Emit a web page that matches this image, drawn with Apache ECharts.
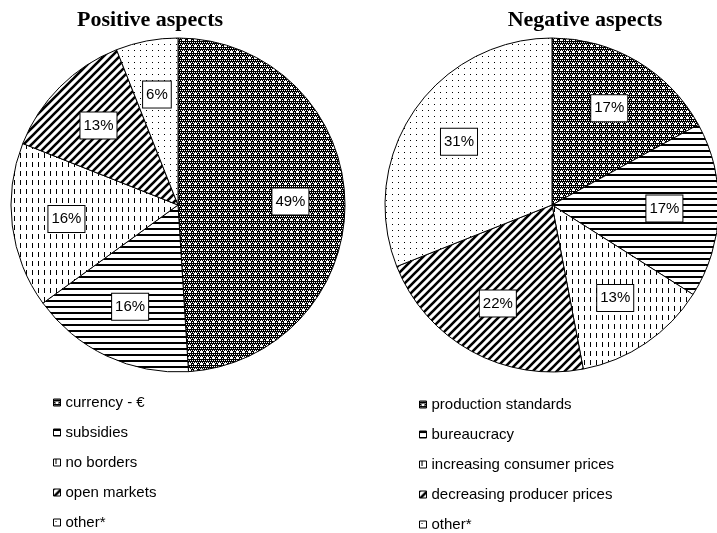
<!DOCTYPE html>
<html>
<head>
<meta charset="utf-8">
<script src="https://cdn.jsdelivr.net/npm/echarts@6/dist/echarts.min.js"></script>
<style>
html,body{margin:0;padding:0;background:#fff;}
#main{width:717px;height:533px;}
</style>
</head>
<body>
<div id="main"></div>
<script>
const posTitle = 'Positive aspects';
const negTitle = 'Negative aspects';
const posCategories = ['currency - €', 'subsidies', 'no borders', 'open markets', 'other*'];
const posValues = [49, 16, 16, 13, 6];
const negCategories = ['production standards', 'bureaucracy', 'increasing consumer prices', 'decreasing producer prices', 'other*'];
const negValues = [17, 17, 13, 22, 31];

function makeTile(w, h, draw) {
  const c = document.createElement('canvas');
  c.width = w; c.height = h;
  const ctx = c.getContext('2d');
  ctx.fillStyle = '#fff';
  ctx.fillRect(0, 0, w, h);
  ctx.fillStyle = '#000';
  draw(ctx, w, h);
  return { image: c, repeat: 'repeat' };
}
// dark checker with white plus dots
const patChecker = makeTile(6, 6, function (ctx, w, h) {
  ctx.fillRect(0, 0, w, h);
  ctx.fillStyle = '#fff';
  for (let y = 0; y < h; y += 2) for (let x = 0; x < w; x += 2) {
    ctx.fillRect(x + ((y / 2) % 2), y, 1, 1);
  }
  ctx.fillRect(3, 2, 1, 3);
  ctx.fillRect(2, 3, 3, 1);
});
// horizontal lines
const patHoriz = makeTile(6, 6, function (ctx, w, h) {
  ctx.fillRect(0, 0, w, 2);
});
// vertical dashes
const patVDash = makeTile(6, 9, function (ctx, w, h) {
  ctx.fillRect(2, 0, 1, 5);
});
// diagonal stripes "/"
const patDiag = makeTile(8, 8, function (ctx, w, h) {
  ctx.strokeStyle = '#000';
  ctx.lineWidth = 2.6;
  ctx.beginPath();
  for (let k = -1; k <= 1; k++) {
    ctx.moveTo(-2 + k * w, h + 2);
    ctx.lineTo(w + 2 + k * w, -2);
  }
  ctx.stroke();
});
// sparse dots
const patDots = makeTile(6, 6, function (ctx, w, h) {
  ctx.fillRect(2, 2, 1, 1);
});
const patterns = [patChecker, patHoriz, patVDash, patDiag, patDots];

const centers = [[178, 205], [552, 205]];
const radius = 167;

function buildData(cats, vals) {
  return cats.map(function (name, i) {
    return { name: name, value: vals[i], itemStyle: { color: patterns[i] } };
  });
}

const labelStyle = {
  show: true,
  position: 'inside',
  formatter: '{c}%',
  fontFamily: 'Liberation Sans, Arial, sans-serif',
  fontSize: 15,
  color: '#000',
  backgroundColor: '#fff',
  borderColor: '#000',
  borderWidth: 1,
  padding: [6, 3, 5, 3],
  lineHeight: 15
};

function pushOut(params) {
  const c = centers[params.seriesIndex];
  const r = params.labelRect;
  const lx = r.x + r.width / 2, ly = r.y + r.height / 2;
  const k = 1.3;
  return { x: c[0] + (lx - c[0]) * k, y: c[1] + (ly - c[1]) * k };
}

const legendText = { fontFamily: 'Liberation Sans, Arial, sans-serif', fontSize: 15, color: '#000', lineHeight: 15 };

const chart = echarts.init(document.getElementById('main'), null, { renderer: 'canvas' });
chart.setOption({
  animation: false,
  backgroundColor: '#fff',
  title: [
    { text: posTitle, left: 145, top: 4, textAlign: 'center',
      textStyle: { fontFamily: 'Liberation Serif, Times New Roman, serif', fontWeight: 'bold', fontSize: 22, color: '#000' } },
    { text: negTitle, left: 580, top: 4, textAlign: 'center',
      textStyle: { fontFamily: 'Liberation Serif, Times New Roman, serif', fontWeight: 'bold', fontSize: 22, color: '#000' } }
  ],
  legend: [
    { data: posCategories, orient: 'vertical', left: 53, top: 395, padding: 0, itemWidth: 7, itemHeight: 7, itemGap: 15,
      icon: 'rect', textStyle: legendText, selectedMode: false,
      itemStyle: { borderColor: '#000', borderWidth: 1 } },
    { data: negCategories, orient: 'vertical', left: 419, top: 397, padding: 0, itemWidth: 7, itemHeight: 7, itemGap: 15,
      icon: 'rect', textStyle: legendText, selectedMode: false,
      itemStyle: { borderColor: '#000', borderWidth: 1 } }
  ],
  series: [
    { type: 'pie', center: centers[0], radius: radius, startAngle: 90, clockwise: true,
      data: buildData(posCategories, posValues),
      itemStyle: { borderColor: '#000', borderWidth: 1 },
      label: labelStyle, labelLine: { show: false }, labelLayout: pushOut,
      emphasis: { disabled: true } },
    { type: 'pie', center: centers[1], radius: radius, startAngle: 90, clockwise: true,
      data: buildData(negCategories, negValues),
      itemStyle: { borderColor: '#000', borderWidth: 1 },
      label: labelStyle, labelLine: { show: false }, labelLayout: pushOut,
      emphasis: { disabled: true } }
  ]
});
</script>
</body>
</html>
